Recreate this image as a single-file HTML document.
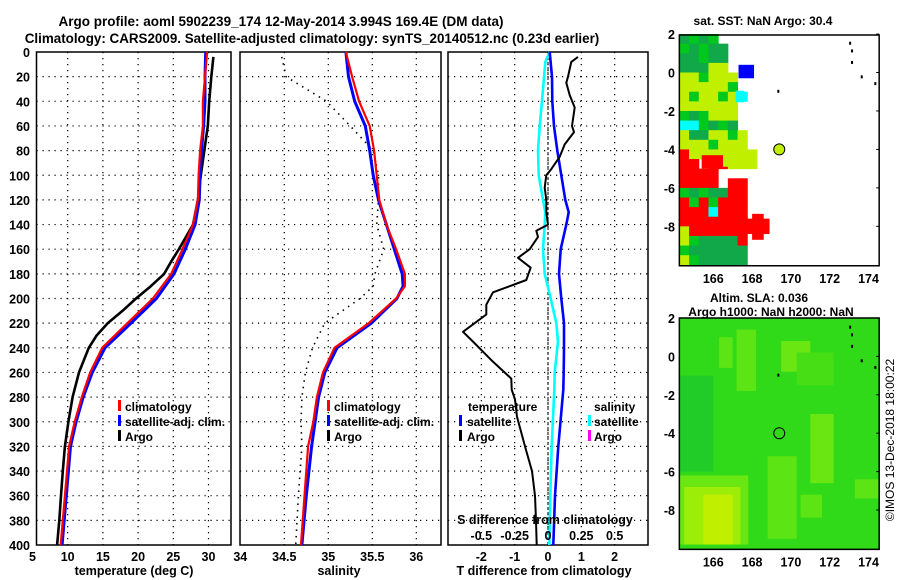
<!DOCTYPE html>
<html><head><meta charset="utf-8"><style>
html,body{margin:0;padding:0;background:#fff;}
svg{display:block;font-family:"Liberation Sans",sans-serif;font-weight:bold;}
</style></head><body>
<svg id="fig" width="900" height="580" viewBox="0 0 900 580" xmlns="http://www.w3.org/2000/svg">
<rect width="900" height="580" fill="#fff"/>
<text x="281" y="26" font-size="13.5" text-anchor="middle">Argo profile: aoml 5902239_174 12-May-2014 3.994S 169.4E (DM data)</text>
<text x="312" y="43" font-size="13.4" text-anchor="middle">Climatology: CARS2009. Satellite-adjusted climatology: synTS_20140512.nc (0.23d earlier)</text>
<g id="p1"></g>
<g id="p2"></g>
<g id="p3"></g>
<g id="m1"></g>
<g id="m2"></g>
<text x="134" y="575" font-size="12.5" text-anchor="middle">temperature (deg C)</text>
<text x="339" y="575" font-size="12.5" text-anchor="middle">salinity</text>
<text x="544" y="575" font-size="12.5" text-anchor="middle">T difference from climatology</text>
<text x="545" y="524" font-size="12.5" text-anchor="middle">S difference from climatology</text>
<text x="763" y="25" font-size="12" text-anchor="middle">sat. SST: NaN Argo: 30.4</text>
<text x="759" y="302" font-size="12" text-anchor="middle">Altim. SLA: 0.036</text>
<text x="771" y="316" font-size="12" text-anchor="middle">Argo h1000: NaN h2000: NaN</text>
<text x="0" y="0" font-size="12" font-weight="normal" text-anchor="middle" transform="translate(894,440) rotate(-90)">©IMOS 13-Dec-2018 18:00:22</text>
<g font-size="12">
<rect x="118" y="400" width="3" height="11" fill="#f00"/>
<text x="125" y="411">climatology</text>
<rect x="118" y="415" width="3" height="11" fill="#00f"/>
<text x="125" y="426">satellite-adj. clim.</text>
<rect x="118" y="430" width="3" height="11" fill="#000"/>
<text x="125" y="441">Argo</text>
</g>
<g font-size="12">
<rect x="327" y="400" width="3" height="11" fill="#f00"/>
<text x="334" y="411">climatology</text>
<rect x="327" y="415" width="3" height="11" fill="#00f"/>
<text x="334" y="426">satellite-adj. clim.</text>
<rect x="327" y="430" width="3" height="11" fill="#000"/>
<text x="334" y="441">Argo</text>
</g>
<g font-size="12">
<text x="468" y="411">temperature</text>
<rect x="459" y="415" width="3" height="11" fill="#00f"/>
<text x="467" y="426">satellite</text>
<rect x="459" y="430" width="3" height="11" fill="#000"/>
<text x="467" y="441">Argo</text>
<text x="594" y="411">salinity</text>
<rect x="588" y="415" width="3" height="11" fill="#0ff"/>
<text x="594" y="426">satellite</text>
<rect x="588" y="430" width="3" height="11" fill="#f0f"/>
<text x="594" y="441">Argo</text>
</g>
</svg>
<script>
// ---------- data ----------
const depthTicks = [0,20,40,60,80,100,120,140,160,180,200,220,240,260,280,300,320,340,360,380,400];
const tempTicks = [5,10,15,20,25,30];
const salTicks = [34,34.5,35,35.5,36];
const salTickLabels = ["34","34.5","35","35.5","36"];
const dtTicks = [-2,-1,0,1,2];
const dsTicks = [-0.5,-0.25,0,0.25,0.5];
const dsTickLabels = ["-0.5","-0.25","0","0.25","0.5"];

const argoTDepth = [4,20,40,60,80,100,120,140,150,160,170,180,190,200,210,220,230,240,260,280,300,320,340,360,380,400];
const argoT = [30.7,30.4,30.1,29.9,29.4,28.9,28.5,27.8,26.8,25.8,24.7,23.7,21.8,19.7,17.8,15.7,14.1,13.0,11.6,10.7,10.1,9.6,9.3,9.05,8.8,8.5];
const climDepth = [0,20,40,60,80,100,120,140,160,180,200,220,240,260,280,300,320,340,360,380,400];
const climT = [29.8,29.5,29.2,29.2,28.8,28.6,28.5,27.8,26.3,24.7,22.1,18.5,14.9,13.2,12.0,11.0,10.2,9.9,9.6,9.3,9.0];
const satT = [29.6,29.5,29.5,29.3,29.0,28.8,28.7,28.1,26.7,25.1,22.6,19.0,15.3,13.5,12.2,11.2,10.4,10.1,9.8,9.5,9.2];

const salDepth = [0,20,40,60,80,100,120,140,160,180,190,200,220,240,260,280,300,320,360,400];
const climS = [35.20,35.27,35.35,35.47,35.52,35.55,35.58,35.66,35.77,35.87,35.87,35.77,35.46,35.07,34.94,34.87,34.83,34.77,34.73,34.69];
const satS = [35.20,35.23,35.30,35.42,35.47,35.51,35.57,35.66,35.75,35.84,35.85,35.78,35.49,35.10,34.96,34.89,34.85,34.81,34.75,34.70];
const argoSDepth = [4,10,20,30,40,60,80,100,120,140,160,170,180,190,200,220,240,260,280,300,320,360,400];
const argoS = [34.47,34.49,34.52,34.75,34.98,35.25,35.51,35.57,35.57,35.55,35.63,35.58,35.53,35.51,35.36,34.96,34.82,34.74,34.70,34.69,34.70,34.66,34.63];

const argoDTDepth = [4,8,20,25,35,45,60,65,75,85,95,100,110,120,130,140,145,150,160,167,175,185,195,205,213,227,235,250,265,274,282,296,320,340,360,380,400];
const argoDT = [0.9,0.7,0.6,0.55,0.65,0.8,0.72,0.78,0.5,0.35,0.1,-0.05,-0.1,-0.05,-0.05,0,-0.35,-0.3,-0.55,-0.9,-0.52,-0.65,-1.65,-1.85,-1.85,-2.55,-2.25,-1.7,-1.1,-1.09,-0.99,-0.93,-0.69,-0.48,-0.39,-0.36,-0.34];
const satDTDepth = [0,20,40,60,80,100,120,130,140,160,180,200,220,240,260,274,320,360,400];
const satDT = [0.05,0.12,0.13,0.18,0.28,0.4,0.52,0.62,0.55,0.38,0.33,0.4,0.48,0.48,0.47,0.46,0.31,0.21,0.16];
const satDSDepth = [0,8,40,60,80,100,120,130,140,160,180,200,220,235,260,274,320,360,400];
const satDS = [0.0125,-0.02,-0.045,-0.0625,-0.075,-0.07,-0.0375,-0.02,-0.025,-0.0375,-0.025,0.02,0.0625,0.075,0.05,0.0475,0.0275,0.0175,0.01];

const lonTicks = [166,168,170,172,174];
const latTicks = [2,0,-2,-4,-6,-8];
const argoLon = 169.4, argoLat = -4.0;
const sstRows = [
"GgGg....","gGgGG...","GGgGG...","GGGLL...","LLgLLL..","LLLLLg..","LgLLgLC.","LLLLLL..",
"gGgLLL..","CCgGgG..","LGGLLgL.","LLLgLLL.","RLLLLLLL","RR.RRLLL","RRRR....","RRRR.RR.",
"gGgGGRR.","RgRgRRR.","RRRCRRR.","RRRRRRR.","LRRRRRR.","LgGGGGR.","gGGGGGG.","LgGGGGG."];

// ---------- helpers ----------
const NS = "http://www.w3.org/2000/svg";
function mk(parent, tag, attrs){ const e=document.createElementNS(NS,tag); for(const k in attrs) e.setAttribute(k,attrs[k]); parent.appendChild(e); return e; }
const Y0=52, Y1=545;
const yD = d => Y0 + d*(Y1-Y0)/400;
const xT = t => 67.7 + (t-10)*7.04;
const xS = s => 284.3 + (s-34.5)*88;
const xD = t => 548 + t*33.33;
const xDS = s => 548 + s*133.33;

function panelFrame(g, x0, x1, xs, name, yLabels){
  for(const d of depthTicks){
    if(d===0||d===400) continue;
    const l=mk(g,'line',{x1:x0,x2:x1,y1:yD(d),y2:yD(d),stroke:'#000','stroke-width':1.2,'stroke-dasharray':'1.2,4.8'});
    
    
  }
  for(const x of xs){
    const l=mk(g,'line',{x1:x,x2:x,y1:Y0,y2:Y1,stroke:'#000','stroke-width':1.2,'stroke-dasharray':'1.2,4.8'});
    
    
  }
  if(yLabels){
    for(const d of depthTicks){
      const t=mk(g,'text',{x:30,y:yD(d)+5,'font-size':12.5,'text-anchor':'end'});
      t.textContent=String(d);
      
      
    }
  }
  const b=mk(g,'rect',{x:x0,y:Y0,width:x1-x0,height:Y1-Y0,fill:'none',stroke:'#000','stroke-width':1.5});
  
  
}
function drawLine(g, xs, depths, fx, color, w, name, dash){
  const pts = xs.map((v,i)=> fx(v).toFixed(1)+','+yD(depths[i]).toFixed(1)).join(' ');
  const a={points:pts,fill:'none',stroke:color,'stroke-width':w,'stroke-linejoin':'round'};
  if(dash) a['stroke-dasharray']=dash;
  const p=mk(g,'polyline',a);
  
  
}
function xLabels(g, vals, labels, fx, y){
  vals.forEach((v,i)=>{
    const t=mk(g,'text',{x:fx(v),y:y,'font-size':12.5,'text-anchor':'middle'});
    t.textContent=labels[i];
    
    
  });
}

const p1=document.getElementById('p1');
panelFrame(p1,36.5,231,tempTicks.filter(t=>t>5).map(xT),'temperature-panel',true);
drawLine(p1,argoT,argoTDepth,xT,'#000',2.6,'argo-temperature-line');
drawLine(p1,satT,climDepth,xT,'#00f',3,'satellite-temperature-line');
drawLine(p1,climT,climDepth,xT,'#f00',2.2,'climatology-temperature-line');
xLabels(p1,tempTicks,tempTicks.map(String),xT,561);

const p2=document.getElementById('p2');
panelFrame(p2,240,441,salTicks.filter(s=>s>34).map(xS),'salinity-panel',false);
drawLine(p2,argoS,argoSDepth,xS,'#000',1.6,'argo-salinity-line','1.5,5');
drawLine(p2,satS,salDepth,xS,'#00f',3,'satellite-salinity-line');
drawLine(p2,climS,salDepth,xS,'#f00',2.2,'climatology-salinity-line');
xLabels(p2,salTicks,salTickLabels,xS,561);

const p3=document.getElementById('p3');
panelFrame(p3,448,648,dtTicks.map(xD),'difference-panel',false);
{ const z=mk(p3,'line',{x1:xD(0),x2:xD(0),y1:Y0,y2:Y1,stroke:'#000','stroke-width':1,'stroke-dasharray':'3,2'});
  
   }
drawLine(p3,satDS,satDSDepth,xDS,'#0ff',2.6,'satellite-salinity-difference-line');
drawLine(p3,satDT,satDTDepth,xD,'#00f',2.6,'satellite-temperature-difference-line');
drawLine(p3,argoDT,argoDTDepth,xD,'#000',2,'argo-temperature-difference-line');
xLabels(p3,dtTicks,dtTicks.map(String),xD,561);
xLabels(p3,dsTicks,dsTickLabels,xDS,540);

const LON0=164.25, LON1=174.55;
const lonX = l => 713.3 + (l-166)*19.4;
const SSTCOL={G:'#10a848',g:'#00c81c',L:'#c0f000',R:'#ff0000',C:'#00ffff',B:'#0000ff'};
function mapFrame(g, top, latY, name){
  const bottom = latY(-10.05);
  const b=mk(g,'rect',{x:lonX(LON0),y:top,width:lonX(LON1)-lonX(LON0),height:bottom-top,fill:'none',stroke:'#000','stroke-width':1.5});
  
  
  for(const la of latTicks){
    const t=mk(g,'text',{x:675,y:latY(la)+5,'font-size':12.5,'text-anchor':'end'});
    t.textContent=String(la);
    
    
    const k=mk(g,'line',{x1:lonX(LON1)-3,x2:lonX(LON1),y1:latY(la),y2:latY(la),stroke:'#000','stroke-width':1});
    
    
  }
  for(const lo of lonTicks){
    const t=mk(g,'text',{x:lonX(lo),y:bottom+17,'font-size':12.5,'text-anchor':'middle'});
    t.textContent=String(lo);
    
    
  }
  const isl=[[173,1.6],[173.1,1.2],[173.1,0.6],[173.6,-0.15],[174.3,-0.5],[169.3,-0.9]];
  for(const [lo,la] of isl){
    const r=mk(g,'rect',{x:lonX(lo),y:latY(la),width:2,height:3,fill:'#000'});
    
    
  }
}
const m1=document.getElementById('m1');
const latY1 = la => 72.5 - la*19.23;
sstRows.forEach((row,ri)=>{
  for(let ci=0;ci<row.length;ci++){
    const c=row[ci]; if(c==='.') continue;
    const lo=LON0+ci*0.5, la=2-ri*0.5;
    const r=mk(m1,'rect',{x:lonX(lo),y:latY1(la),width:19.4*0.5+0.5,height:19.23*0.5+0.5,fill:SSTCOL[c]});
    
    
  }
});
const sstBlocks=[[167.3,168.1,0.4,-0.3,'B'],[167.15,167.6,-0.95,-1.55,'C'],[165.4,166.5,-4.3,-5.0,'R'],[166.5,167.9,-4.1,-4.9,'L'],[167.7,168.9,-7.6,-8.4,'R'],[168.0,168.6,-7.35,-8.7,'R']];
for(const [a,b,t,u,c] of sstBlocks){
  const r=mk(m1,'rect',{x:lonX(a),y:latY1(t),width:lonX(b)-lonX(a),height:latY1(u)-latY1(t),fill:SSTCOL[c]});
  
  
}
mapFrame(m1,35,latY1,'sst-map');
{ const c=mk(m1,'circle',{cx:lonX(argoLon),cy:latY1(argoLat),r:5.5,fill:'#c0f000',stroke:'#000','stroke-width':1});
  
   }

const m2=document.getElementById('m2');
const latY2 = la => 356.4 - la*19.2;
const slaPatches=[
 [LON0,LON1,2,-10.05,'#30da18'],
 [164.25,166.0,-1,-6,'#22cc28'],
 [166.3,167.0,1.0,-0.6,'#5de414'],
 [167.2,168.2,1.4,-1.8,'#5de414'],
 [169.5,171.0,0.8,-0.8,'#6ae612'],
 [170.3,172.2,0.2,-1.5,'#48de16'],
 [171.0,172.2,-3.0,-6.6,'#6ae612'],
 [168.8,170.3,-5.2,-9.5,'#5de414'],
 [170.5,171.6,-7.2,-8.4,'#5de414'],
 [173.3,174.55,-6.4,-7.4,'#5de414'],
 [164.25,167.8,-6.2,-10.05,'#6ae612'],
 [164.5,167.4,-6.8,-9.9,'#9cee08'],
 [165.5,167.0,-7.2,-9.9,'#c0f000'],
 [164.25,174.55,-9.8,-10.05,'#30da18']
];
for(const [a,b,t,u,c] of slaPatches){
  const r=mk(m2,'rect',{x:lonX(a),y:latY2(t),width:lonX(b)-lonX(a),height:latY2(u)-latY2(t),fill:c});
  
  
}
mapFrame(m2,318,latY2,'sla-map');
{ const c=mk(m2,'circle',{cx:lonX(argoLon),cy:latY2(argoLat),r:5.5,fill:'none',stroke:'#000','stroke-width':1});
  
   }
</script>
</body></html>
